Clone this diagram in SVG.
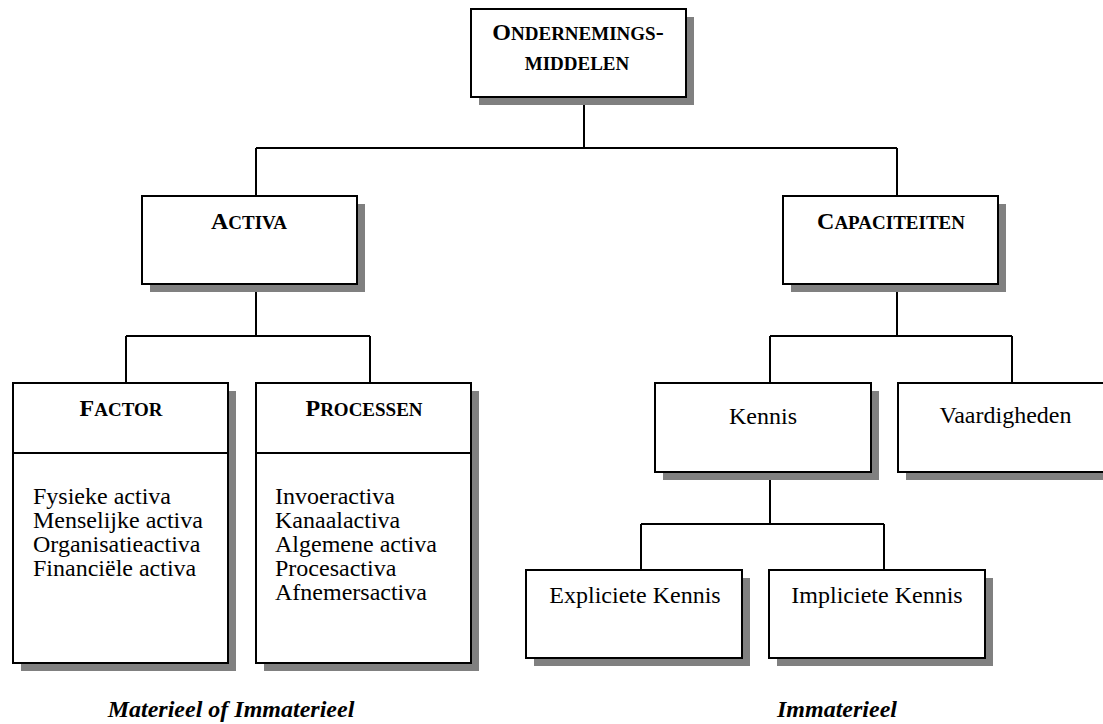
<svg xmlns="http://www.w3.org/2000/svg" width="1103" height="724" viewBox="0 0 1103 724">
<style>
.box{fill:#fff;stroke:#000;stroke-width:2}
.sh{fill:#808080}
.con{fill:none;stroke:#000;stroke-width:2}
.t{font-family:"Liberation Serif","Times New Roman",serif;font-size:24px;fill:#000}
.h{font-family:"Liberation Serif","Times New Roman",serif;font-weight:bold;fill:#000;font-size:24px}
.s{font-size:19px}
.lbl{font-family:"Liberation Serif","Times New Roman",serif;font-weight:bold;font-style:italic;font-size:24px;fill:#000}
</style>
<rect width="1103" height="724" fill="#fff"/>
<g id="connectors">
<path class="con" d="M584 97V148M256 148H897M256 148V196M897 148V196"/>
<path class="con" d="M256 284V336M126 336H370M126 336V383M370 336V383"/>
<path class="con" d="M897 284V336M770 336H1012M770 336V383M1012 336V383"/>
<path class="con" d="M770 472V524M641 524H884M641 524V570M884 524V570"/>
</g>
<g id="ondernemingsmiddelen">
<rect class="sh" x="479" y="17" width="215" height="88"/>
<rect class="box" x="471" y="9" width="215" height="88"/>
<text class="h" x="578" y="40" text-anchor="middle">O<tspan class="s">NDERNEMINGS</tspan>-</text>
<text class="h" x="577" y="70" text-anchor="middle"><tspan class="s">MIDDELEN</tspan></text>
</g>
<g id="activa">
<rect class="sh" x="150" y="204" width="215" height="88"/>
<rect class="box" x="142" y="196" width="215" height="88"/>
<text class="h" x="249" y="229" text-anchor="middle">A<tspan class="s">CTIVA</tspan></text>
</g>
<g id="capaciteiten">
<rect class="sh" x="791" y="204" width="215" height="88"/>
<rect class="box" x="783" y="196" width="215" height="88"/>
<text class="h" x="891" y="229" text-anchor="middle">C<tspan class="s">APACITEITEN</tspan></text>
</g>
<g id="factor">
<rect class="sh" x="21" y="391" width="215" height="280"/>
<rect class="box" x="13" y="383" width="215" height="280"/>
<line class="con" x1="13" y1="453" x2="228" y2="453"/>
<text class="h" x="121" y="416" text-anchor="middle">F<tspan class="s">ACTOR</tspan></text>
<text class="t" x="33" y="504">Fysieke activa</text>
<text class="t" x="33" y="528">Menselijke activa</text>
<text class="t" x="33" y="552">Organisatieactiva</text>
<text class="t" x="33" y="576">Financiële activa</text>
</g>
<g id="processen">
<rect class="sh" x="264" y="391" width="215" height="280"/>
<rect class="box" x="256" y="383" width="215" height="280"/>
<line class="con" x1="256" y1="453" x2="471" y2="453"/>
<text class="h" x="364" y="416" text-anchor="middle">P<tspan class="s">ROCESSEN</tspan></text>
<text class="t" x="275" y="504">Invoeractiva</text>
<text class="t" x="275" y="528">Kanaalactiva</text>
<text class="t" x="275" y="552">Algemene activa</text>
<text class="t" x="275" y="576">Procesactiva</text>
<text class="t" x="275" y="600">Afnemersactiva</text>
</g>
<g id="kennis">
<rect class="sh" x="663" y="391" width="216" height="89"/>
<rect class="box" x="655" y="383" width="216" height="89"/>
<text class="t" x="763" y="424" text-anchor="middle">Kennis</text>
</g>
<g id="vaardigheden">
<rect class="sh" x="906" y="391" width="216" height="89"/>
<rect class="box" x="898" y="383" width="216" height="89"/>
<text class="t" x="1005.5" y="423" text-anchor="middle">Vaardigheden</text>
</g>
<g id="expliciete-kennis">
<rect class="sh" x="534" y="578" width="216" height="88"/>
<rect class="box" x="526" y="570" width="216" height="88"/>
<text class="t" x="635" y="603" text-anchor="middle">Expliciete Kennis</text>
</g>
<g id="impliciete-kennis">
<rect class="sh" x="777" y="578" width="216" height="88"/>
<rect class="box" x="769" y="570" width="216" height="88"/>
<text class="t" x="877" y="603" text-anchor="middle">Impliciete Kennis</text>
</g>
<g id="labels">
<text class="lbl" x="231" y="717" text-anchor="middle">Materieel of Immaterieel</text>
<text class="lbl" x="837" y="717" text-anchor="middle">Immaterieel</text>
</g>
</svg>
